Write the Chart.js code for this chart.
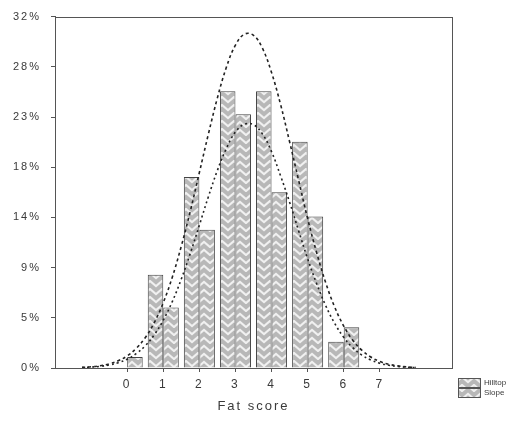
<!DOCTYPE html>
<html>
<head>
<meta charset="utf-8">
<script src="https://cdn.jsdelivr.net/npm/chart.js@4.4.0/dist/chart.umd.min.js"></script>
<style>
  html, body { margin: 0; padding: 0; background: #fff; }
  #wrap { position: relative; width: 522px; height: 426px; }
</style>
</head>
<body>
<div id="wrap"><canvas id="fat-chart" width="522" height="426"></canvas></div>
<script>
// bar data, % of birds per fat score
const fatScores = [0, 1, 2, 3, 4, 5, 6, 7];
const hilltopPct = [0, 8.5, 17.4, 25.2, 25.2, 20.6, 2.4, 0];
const slopePct = [1.0, 5.5, 12.6, 23.1, 16.0, 13.8, 3.7, 0];

// fitted normal curves
const curveX = [-1.25, -1, -0.75, -0.5, -0.25, 0, 0.25, 0.5, 0.75, 1, 1.25, 1.5, 1.75, 2, 2.25, 2.5, 2.75, 3, 3.25,
  3.5, 3.75, 4, 4.25, 4.5, 4.75, 5, 5.25, 5.5, 5.75, 6, 6.25, 6.5, 6.75, 7, 7.25, 7.5, 7.75, 8];
const hilltopCurve = [0.06, 0.11, 0.21, 0.38, 0.66, 1.10, 1.78, 2.76, 4.13, 5.95, 8.27, 11.1, 14.3, 17.8, 21.3, 24.6, 27.4, 29.4, 30.4,
  30.3, 29.1, 26.9, 24.0, 20.6, 17.1, 13.6, 10.5, 7.77, 5.55, 3.82, 2.53, 1.62, 1.00, 0.59, 0.34, 0.19, 0.10, 0.05];
const slopeCurve = [0.04, 0.08, 0.15, 0.28, 0.48, 0.80, 1.30, 2.02, 3.02, 4.35, 6.05, 8.10, 10.45, 13.0, 15.6, 18.0, 20.0, 21.5, 22.2,
  22.15, 21.3, 19.7, 17.5, 15.1, 12.5, 9.95, 7.68, 5.68, 4.06, 2.79, 1.85, 1.18, 0.73, 0.43, 0.25, 0.14, 0.07, 0.04];

const yTickLabels = ['0%', '5%', '9%', '14%', '18%', '23%', '28%', '32%'];
const yMax = 32;
const seriesNames = ['Hilltop', 'Slope'];

const textColor = '#3a3a3a';
const axisColor = '#555';
const fontFamily = "'Liberation Sans', Arial, sans-serif";

function makePattern(kind) {
  const c = document.createElement('canvas');
  c.width = 12;
  c.height = 8;
  const g = c.getContext('2d');
  g.fillStyle = '#b8b8b8';
  g.fillRect(0, 0, 12, 8);
  g.strokeStyle = '#f0f0f0';
  g.lineWidth = 2.2;
  g.beginPath();
  if (kind === 'up') {
    g.moveTo(-1, 7); g.lineTo(6, 1); g.lineTo(13, 7);
  } else {
    g.moveTo(-1, 1); g.lineTo(6, 7); g.lineTo(13, 1);
  }
  g.stroke();
  return g.createPattern(c, 'repeat');
}

const hilltopFill = makePattern('up');
const slopeFill = makePattern('down');

// wide lettering like the original export
const spacing = {
  id: 'spacing',
  beforeLayout(chart) { chart.ctx.letterSpacing = '2px'; },
  beforeDraw(chart) { chart.ctx.letterSpacing = '2px'; }
};

const frame = {
  id: 'frame',
  afterDatasetsDraw(chart) {
    const { ctx, chartArea: a } = chart;
    ctx.save();
    ctx.strokeStyle = axisColor;
    ctx.lineWidth = 1;
    ctx.strokeRect(Math.round(a.left) + 0.5, Math.round(a.top) + 0.5, Math.round(a.right - a.left), Math.round(a.bottom - a.top));
    ctx.restore();
  }
};

const boxLegend = {
  id: 'boxLegend',
  afterDraw(chart) {
    const ctx = chart.ctx;
    const fills = [hilltopFill, slopeFill];
    ctx.save();
    ctx.letterSpacing = '0px';
    ctx.font = '8px ' + fontFamily;
    ctx.textBaseline = 'middle';
    seriesNames.forEach((name, i) => {
      const y = 378 + i * 10;
      ctx.fillStyle = fills[i];
      ctx.fillRect(458, y, 22, 9);
      ctx.strokeStyle = axisColor;
      ctx.strokeRect(458.5, y + 0.5, 22, 9);
      ctx.fillStyle = textColor;
      ctx.fillText(name, 484, y + 5);
    });
    ctx.restore();
  }
};

const ctx = document.getElementById('fat-chart').getContext('2d');

new Chart(ctx, {
  data: {
    datasets: [
      {
        type: 'line',
        label: seriesNames[0] + ' fit',
        data: curveX.map((x, i) => ({ x: x, y: hilltopCurve[i] })),
        borderColor: '#222',
        borderWidth: 1.6,
        borderDash: [3, 3],
        pointRadius: 0,
        tension: 0.4,
        fill: false,
        order: 0
      },
      {
        type: 'line',
        label: seriesNames[1] + ' fit',
        data: curveX.map((x, i) => ({ x: x, y: slopeCurve[i] })),
        borderColor: '#222',
        borderWidth: 1.6,
        borderDash: [2, 3],
        pointRadius: 0,
        tension: 0.4,
        fill: false,
        order: 0
      },
      {
        type: 'bar',
        label: seriesNames[0],
        data: fatScores.map((x, i) => ({ x: x, y: hilltopPct[i] })),
        backgroundColor: hilltopFill,
        borderColor: '#444',
        borderWidth: 1,
        barPercentage: 1,
        categoryPercentage: 0.86,
        order: 1
      },
      {
        type: 'bar',
        label: seriesNames[1],
        data: fatScores.map((x, i) => ({ x: x, y: slopePct[i] })),
        backgroundColor: slopeFill,
        borderColor: '#444',
        borderWidth: 1,
        barPercentage: 1,
        categoryPercentage: 0.86,
        order: 1
      }
    ]
  },
  options: {
    responsive: false,
    animation: false,
    layout: { padding: { left: 0, top: 15, right: 70, bottom: 0 } },
    plugins: {
      legend: { display: false },
      tooltip: { enabled: false }
    },
    scales: {
      x: {
        type: 'linear',
        min: -2,
        max: 9,
        offset: false,
        afterBuildTicks: s => { s.ticks = fatScores.map(v => ({ value: v })); },
        afterFit: s => { s.height = 58; },
        grid: { display: true, offset: false, drawOnChartArea: false, drawTicks: true, tickLength: 4, color: axisColor },
        border: { display: true, color: axisColor },
        ticks: {
          color: textColor,
          padding: 5,
          maxRotation: 0,
          autoSkip: false,
          font: { size: 12, family: fontFamily },
          callback: v => String(v)
        },
        title: {
          display: true,
          text: 'Fat score',
          color: textColor,
          font: { size: 13, family: fontFamily },
          padding: { top: 0, bottom: 12 }
        }
      },
      y: {
        type: 'linear',
        min: 0,
        max: yMax,
        afterBuildTicks: s => { s.ticks = yTickLabels.map((t, i) => ({ value: i * yMax / (yTickLabels.length - 1) })); },
        afterFit: s => { s.width = 55; },
        grid: { display: true, drawOnChartArea: false, drawTicks: true, tickLength: 4, color: axisColor },
        border: { display: true, color: axisColor },
        ticks: {
          color: textColor,
          padding: 10,
          autoSkip: false,
          font: { size: 11, family: fontFamily },
          callback: (v, i) => yTickLabels[i]
        }
      }
    }
  },
  plugins: [spacing, frame, boxLegend]
});
</script>
</body>
</html>
